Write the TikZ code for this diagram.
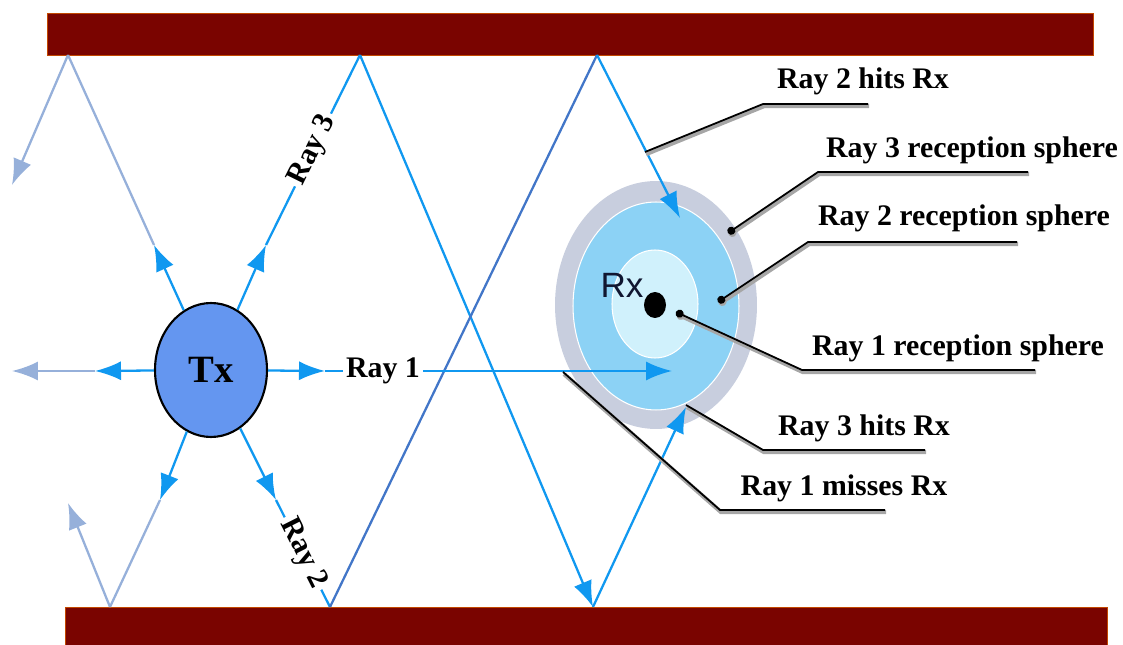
\documentclass[tikz,border=0pt]{standalone}
\usepackage{fontspec}
\setmainfont{Liberation Serif}
\setsansfont{Liberation Sans}
\usepackage{xcolor}
\usepackage{tikz}
\usetikzlibrary{shapes.geometric, arrows.meta, positioning, calc}

\definecolor{wallred}{RGB}{122,4,0}
\definecolor{raycol}{RGB}{16,152,240}
\definecolor{raydark}{RGB}{66,118,200}
\definecolor{faintcol}{RGB}{150,176,218}
\definecolor{txblue}{RGB}{100,150,240}
\definecolor{rxgrey}{RGB}{200,206,222}
\definecolor{rxmid}{RGB}{140,210,245}
\definecolor{rxin}{RGB}{208,241,252}
\definecolor{rxtext}{RGB}{16,22,48}

\begin{document}
\begin{tikzpicture}[
  x=0.02cm, y=-0.02cm,
  wall/.style={fill=wallred, draw=orange!55!wallred, line width=0.4pt},
  ray/.style={draw=raycol, line width=1.3pt},
  faint/.style={draw=faintcol, line width=1.3pt},
  tip/.style={-{Latex[length=5.2mm, width=3.8mm]}},
  tx/.style={ellipse, draw, line width=1.2pt, fill=txblue, minimum width=2.24cm, minimum height=2.68cm, inner sep=0pt, font=\fontsize{22}{24}\selectfont\bfseries},
  ring/.style={ellipse, draw=white, line width=0.6pt, inner sep=0pt},
  lbl/.style={font=\fontsize{17}{19}\selectfont\bfseries, inner sep=1pt},
  raylbl/.style={font=\fontsize{17}{19}\selectfont\bfseries, fill=white, inner sep=2pt},
  leader/.style={draw=black, line width=1pt, preaction={draw=gray!70, line width=2.4pt, transform canvas={shift={(0.6pt,-1.2pt)}}}},
  dotted end/.style={{Circle[length=1.6mm]}-}
]

\useasboundingbox (0,0) rectangle (1123,645);

\draw[wall] (47,13) rectangle (1093,55);
\draw[wall] (65,607) rectangle (1107,645);

\node[ring, fill=rxgrey, draw=none, minimum width=4.04cm, minimum height=4.96cm] (rx3) at (656,305) {};
\node[ring, fill=rxmid, minimum width=3.32cm, minimum height=4.16cm] (rx2) at (656,306) {};
\node[ring, fill=rxin, minimum width=1.72cm, minimum height=2.16cm] (rx1) at (655,304) {};
\node[ellipse, fill=black, minimum width=0.44cm, minimum height=0.52cm, inner sep=0pt] (rx) at (655,305) {};
\node[font=\sffamily\fontsize{20}{22}\selectfont, text=rxtext] (rxlbl) at (622,285) {Rx};

\node[tx] (tx) at (211,370) {Tx};

\coordinate (ul1) at (154,245);
\coordinate (ul2) at (68,55);
\coordinate (ul3) at (12,185);
\coordinate (l1) at (95,371);
\coordinate (l2) at (12,371);
\coordinate (dl1) at (160,500);
\coordinate (dl2) at (110,607);
\coordinate (dl3) at (68,503);
\coordinate (ur1) at (266,245);
\coordinate (ur2) at (360,55);
\coordinate (ur3) at (593,607);
\coordinate (ur4) at (686,407);
\coordinate (dr1) at (276,500);
\coordinate (dr2) at (330,607);
\coordinate (dr3) at (597,55);
\coordinate (dr4) at (680,218);
\coordinate (r1) at (325,371);
\coordinate (r2) at (672,371);

\draw[ray, tip] (tx) -- (ul1);
\draw[faint] (ul1) -- (ul2);
\draw[faint, tip] (ul2) -- (ul3);
\draw[ray, tip] (tx) -- (l1);
\draw[faint, tip] (l1) -- (l2);
\draw[ray, tip] (tx) -- (dl1);
\draw[faint] (dl1) -- (dl2);
\draw[faint, tip] (dl2) -- (dl3);

\draw[ray, tip] (tx) -- (ur1);
\draw[ray] (ur1) -- node[raylbl, sloped] {Ray 3} (ur2);
\draw[ray, tip] (ur2) -- (ur3);
\draw[ray, tip] (ur3) -- (ur4);

\draw[ray, tip] (tx) -- (dr1);
\draw[ray] (dr1) -- node[raylbl, sloped] {Ray 2} (dr2);
\draw[ray, draw=raydark] (dr2) -- (dr3);
\draw[ray, tip] (dr3) -- (dr4);

\draw[ray, tip] (tx) -- (r1);
\draw[ray, tip] (r1) -- node[raylbl, pos=0.167] {Ray 1} (r2);

\node[lbl] (c1) at (863,81) {Ray 2 hits Rx};
\node[lbl] (c2) at (972,150) {Ray 3 reception sphere};
\node[lbl] (c3) at (964,218) {Ray 2 reception sphere};
\node[lbl] (c4) at (958,348) {Ray 1 reception sphere};
\node[lbl] (c5) at (864,428) {Ray 3 hits Rx};
\node[lbl] (c6) at (844,488) {Ray 1 misses Rx};

\coordinate (c1a) at (645,152);
\coordinate (c1b) at (763,104);
\coordinate (c1c) at (868,104);
\coordinate (c2a) at (728,233);
\coordinate (c2b) at (818,172);
\coordinate (c2c) at (1028,172);
\coordinate (c3a) at (718,302);
\coordinate (c3b) at (808,242);
\coordinate (c3c) at (1017,242);
\coordinate (c4a) at (676,312);
\coordinate (c4b) at (802,370);
\coordinate (c4c) at (1035,370);
\coordinate (c5a) at (686,405);
\coordinate (c5b) at (763,450);
\coordinate (c5c) at (925,450);
\coordinate (c6a) at (563,372);
\coordinate (c6b) at (720,510);
\coordinate (c6c) at (885,510);

\draw[leader] (c1a) -- (c1b) -- (c1c);
\draw[leader, dotted end] (c2a) -- (c2b) -- (c2c);
\draw[leader, dotted end] (c3a) -- (c3b) -- (c3c);
\draw[leader, dotted end] (c4a) -- (c4b) -- (c4c);
\draw[leader] (c5a) -- (c5b) -- (c5c);
\draw[leader] (c6a) -- (c6b) -- (c6c);

\end{tikzpicture}
\end{document}
